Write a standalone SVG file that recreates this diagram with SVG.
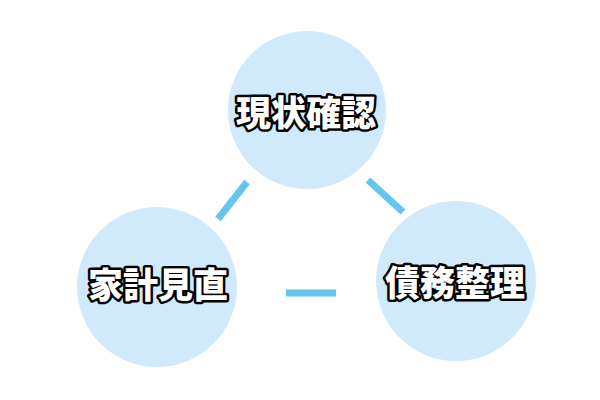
<svg xmlns="http://www.w3.org/2000/svg" width="600" height="400" viewBox="0 0 600 400">
<style>
.c{fill:#d1eafb}
.t{font-family:"Noto Sans CJK JP","Noto Sans CJK SC",sans-serif;font-weight:900;font-size:35px;fill:#fff;stroke:#000;stroke-width:5;stroke-linejoin:round;paint-order:stroke;text-anchor:middle;dominant-baseline:central}
.l{stroke:#66c5ee;stroke-width:7;fill:none}
</style>
<rect width="600" height="400" fill="#fff"/>
<g id="connectors">
<line class="l" x1="247" y1="182" x2="218" y2="219"/>
<line class="l" x1="368" y1="180" x2="403" y2="212"/>
<line class="l" x1="286" y1="293" x2="336" y2="293"/>
</g>
<g id="genjo">
<circle class="c" cx="307" cy="110" r="79"/>
<text class="t" x="306" y="110">現状確認</text>
</g>
<g id="kakei">
<circle class="c" cx="157" cy="287" r="80"/>
<text class="t" x="158" y="282">家計見直</text>
</g>
<g id="saimu">
<circle class="c" cx="456" cy="281" r="80"/>
<text class="t" x="455" y="280">債務整理</text>
</g>
</svg>
